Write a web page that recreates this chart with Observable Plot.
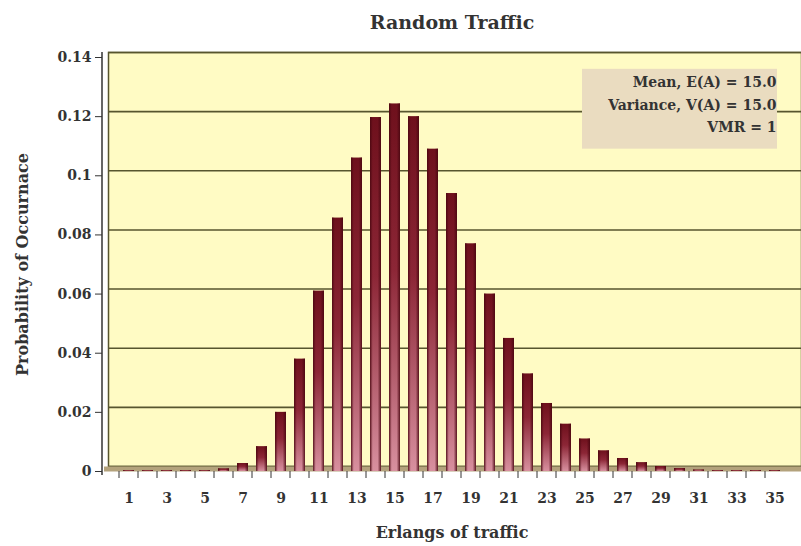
<!DOCTYPE html>
<html><head><meta charset="utf-8">
<script src="https://cdn.jsdelivr.net/npm/d3@7"></script>
<script src="https://cdn.jsdelivr.net/npm/@observablehq/plot@0.6"></script>
<style>body{margin:0;background:#fff} svg{display:block}</style>
</head><body><div id="chart"></div>
<script>
const erlangs = [1,2,3,4,5,6,7,8,9,10,11,12,13,14,15,16,17,18,19,20,21,22,23,24,25,26,27,28,29,30,31,32,33,34,35];
const probability = [0.0003,0.0003,0.0003,0.0003,0.0003,0.0009,0.0027,0.0084,0.020,0.038,0.061,0.0857,0.106,0.1197,0.1243,0.120,0.109,0.094,0.077,0.060,0.045,0.033,0.023,0.016,0.011,0.007,0.0044,0.003,0.0017,0.001,0.0005,0.0003,0.0003,0.0003,0.0003];
const yTicks = [0,0.02,0.04,0.06,0.08,0.1,0.12,0.14];
const yTickLabels = ["0","0.02","0.04","0.06","0.08","0.1","0.12","0.14"];
const xLabelTicks = [1,3,5,7,9,11,13,15,17,19,21,23,25,27,29,31,33,35];
const titleText = "Random Traffic";
const xTitle = "Erlangs of traffic";
const yTitle = "Probability of Occurnace";
const statsLines = ["Mean, E(A) = 15.0","Variance, V(A) = 15.0","VMR = 1"];
const statsBox = [0.109, 0.136];

const data = erlangs.map((e,i)=>({erlang:e, p:probability[i]}));
const font = "'DejaVu Serif', 'Liberation Serif', serif";
const olive = "#57552e";

const chart = Plot.plot({
  width:801, height:546, marginTop:57, marginBottom:75, marginLeft:102, marginRight:0,
  style:{fontFamily:font, fontWeight:"bold", fontSize:"14px", color:"#333", background:"white", overflow:"visible"},
  x:{type:"band", domain:erlangs, padding:0.4, label:null},
  y:{domain:[0,0.14], label:null},
  marks:[
    Plot.frame({fill:"#fffbc4", stroke:olive, strokeWidth:1.5, insetLeft:6, insetTop:-5, insetBottom:5}),
    Plot.ruleY(yTicks, {stroke:olive, strokeWidth:1.6, insetLeft:6, dy:-5}),
    Plot.ruleY([0], {stroke:"#b3a27c", strokeWidth:5, dy:-2.5, insetLeft:2}),
    Plot.rect([0], {y1:statsBox[0], y2:statsBox[1], fill:"#eadcc0", insetLeft:480, insetRight:24}),
    Plot.text([statsLines.join("\n")], {frameAnchor:"top-right", dx:-25, dy:14, lineAnchor:"top", lineHeight:1.6, fontSize:14, fill:"#333", textAnchor:"end"}),
    Plot.barY(data, {x:"erlang", y:"p", fill:"url(#barV)"}),
    Plot.barY(data, {x:"erlang", y:"p", fill:"url(#barH)"}),
    Plot.axisY({ticks:yTicks, tickFormat:(d)=>yTickLabels[yTicks.indexOf(d)], tickSize:7, tickPadding:4, fontSize:14, stroke:"#333"}),
    Plot.axisX({ticks:erlangs, tickFormat:()=>"", tickSize:7, dx:-10, stroke:"#333"}),
    Plot.axisX({ticks:xLabelTicks, tickSize:0, tickPadding:22, fontSize:14}),
    Plot.text([titleText], {frameAnchor:"top", dy:-42, fontSize:19, fill:"#333"}),
    Plot.text([xTitle], {frameAnchor:"bottom", dy:66, fontSize:16, fill:"#333"}),
    Plot.text([yTitle], {frameAnchor:"left", dx:-80, rotate:-90, textAnchor:"middle", fontSize:16, fill:"#333"})
  ]
});

const defs = d3.select(chart).insert("defs", ":first-child");
const gv = defs.append("linearGradient").attr("id","barV").attr("x1",0).attr("y1",0).attr("x2",0).attr("y2",1);
gv.append("stop").attr("offset","0%").attr("stop-color","#6e101c");
gv.append("stop").attr("offset","45%").attr("stop-color","#8c2636");
gv.append("stop").attr("offset","100%").attr("stop-color","#d8909f");
const gh = defs.append("linearGradient").attr("id","barH").attr("x1",0).attr("y1",0).attr("x2",1).attr("y2",0);
gh.append("stop").attr("offset","0%").attr("stop-color","#4a0710").attr("stop-opacity",0.9);
gh.append("stop").attr("offset","25%").attr("stop-color","#4a0710").attr("stop-opacity",0.0);
gh.append("stop").attr("offset","70%").attr("stop-color","#4a0710").attr("stop-opacity",0.0);
gh.append("stop").attr("offset","100%").attr("stop-color","#4a0710").attr("stop-opacity",0.9);

// y-axis line at the front edge of the plot
d3.select(chart).append("line")
  .attr("x1",102).attr("x2",102).attr("y1",52).attr("y2",475)
  .attr("stroke","#333").attr("stroke-width",1.5);

document.getElementById("chart").appendChild(chart);
</script>
</body></html>
